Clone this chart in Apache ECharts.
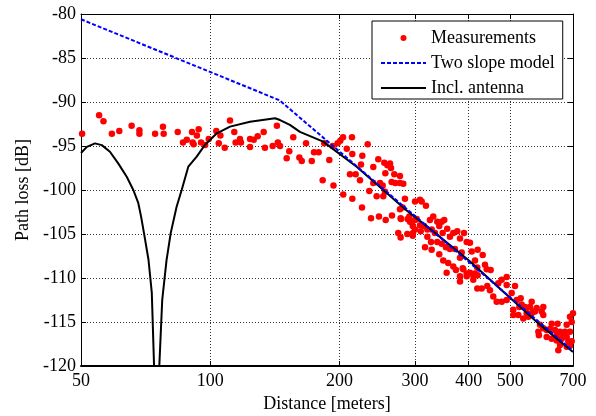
<!DOCTYPE html>
<html>
<head>
<meta charset="utf-8">
<script src="https://cdn.jsdelivr.net/npm/echarts@6/dist/echarts.min.js"></script>
<style>html,body{margin:0;padding:0;background:#fff}#c{width:596px;height:416px}</style>
</head>
<body>
<div id="c"></div>
<script>
// Measurements (distance in meters, path loss in dB)
const measDist = [50.3,55.1,56.4,59.0,61.4,65.6,68.4,68.4,74.4,77.6,77.9,84.0,86.4,88.2,90.7,91.0,91.5,93.1,94.0,95.2,97.3,99.2,103.3,105.6,104.7,108.1,111.2,113.8,114.6,117.3,117.9,123.8,123.8,126.3,129.0,133.2,134.1,139.8,143.0,143.7,145.4,150.7,152.8,156.1,161.3,163.4,167.2,172.4,174.5,178.9,184.4,182.8,189.4,193.7,192.9,198.1,200.9,203.9,204.1,213.9,208.0,214.3,232.7,226.1,224.5,211.6,218.2,223.3,246.3,254.4,262.3,258.6,263.7,239.8,255.8,268.4,276.7,264.6,269.9,276.7,281.7,248.6,252.2,239.8,234.7,244.2,253.0,255.4,214.3,225.7,284.2,299.9,308.1,280.7,236.9,247.2,256.3,265.1,278.2,288.3,292.0,299.9,274.2,287.8,296.7,277.7,296.3,310.9,318.1,276.7,277.7,290.9,294.7,302.7,308.1,314.8,299.9,309.3,320.5,325.0,330.8,338.0,346.1,350.9,341.6,356.5,328.0,333.8,347.9,368.3,376.3,361.8,296.3,320.5,316.5,328.0,338.0,346.1,326.8,341.6,354.1,361.8,371.6,402.8,385.3,406.5,349.0,358.4,368.3,381.8,373.6,388.6,395.8,355.4,381.8,410.0,418.9,390.1,381.8,395.8,419.8,431.2,413.8,387.4,402.8,395.8,381.8,413.8,419.8,436.6,440.6,450.1,410.0,418.9,428.9,442.0,448.4,456.4,464.8,477.5,490.5,477.5,490.5,490.5,468.9,503.8,528.7,508.1,524.8,546.0,560.9,508.1,522.0,546.0,560.9,570.9,536.1,512.8,517.5,531.5,541.0,555.8,576.1,596.9,591.8,565.7,550.8,596.9,624.4,644.6,676.7,688.8,700,695.1,586.4,596.9,581.2,607.9,618.7,635.5,652.8,670.5,688.8,641.3,664.5,607.9,624.4,641.3,658.8,676.7,682.6,652.8,646.9,695.1,676.7,688.8,583.0];
const measLoss = [-93.6,-91.5,-92.2,-93.6,-93.3,-92.7,-93.2,-93.6,-93.6,-92.8,-93.6,-93.4,-94.6,-94.3,-93.4,-94.6,-94.8,-93.8,-93.1,-94.6,-94.9,-94.2,-93.3,-93.8,-94.7,-95.2,-92.1,-93.4,-94.6,-94.2,-94.6,-94.2,-95.1,-94.3,-93.9,-93.4,-95.2,-95.0,-92.7,-94.6,-95.0,-96.4,-95.6,-94.0,-96.3,-96.7,-94.7,-96.7,-95.7,-95.7,-94.7,-98.9,-96.6,-99.5,-95.0,-94.7,-94.4,-94.0,-100.5,-94.0,-95.3,-95.9,-94.8,-96.1,-97.1,-98.2,-98.2,-98.9,-96.5,-96.9,-97.0,-97.2,-97.5,-97.4,-98.1,-98.2,-98.4,-99.1,-99.2,-99.2,-99.3,-99.2,-99.5,-99.2,-100.1,-100.7,-100.7,-100.2,-101.0,-102.0,-101.0,-101.3,-101.1,-102.0,-103.2,-103.0,-103.4,-102.9,-103.3,-103.3,-103.6,-103.4,-104.9,-105.0,-104.9,-105.4,-104.1,-101.3,-101.8,-102.2,-103.2,-103.0,-103.7,-103.3,-104.0,-104.1,-104.5,-104.7,-104.5,-103.4,-103.0,-103.6,-103.6,-103.4,-104.1,-104.4,-104.5,-104.9,-104.9,-104.9,-104.7,-105.3,-105.2,-105.3,-106.5,-106.8,-105.9,-106.1,-105.9,-107.3,-106.5,-106.7,-106.7,-106.0,-107.1,-107.0,-108.0,-108.3,-108.7,-107.7,-109.1,-109.0,-109.5,-109.4,-109.8,-109.7,-108.8,-104.9,-105.5,-105.9,-106.8,-107.4,-108.0,-108.9,-109.4,-109.8,-110.4,-109.5,-109.7,-108.5,-109.0,-109.1,-110.2,-111.2,-111.2,-110.9,-111.4,-112.1,-112.7,-112.7,-112.5,-110.2,-109.9,-110.8,-110.6,-111.7,-112.3,-113.6,-113.3,-113.4,-112.7,-114.2,-114.2,-114.0,-114.0,-113.8,-114.6,-110.9,-112.5,-113.0,-113.3,-113.3,-113.4,-113.3,-113.8,-113.8,-114.4,-114.2,-115.2,-115.2,-115.3,-114.4,-114.0,-115.0,-115.3,-115.7,-116.1,-115.9,-115.8,-115.9,-116.1,-116.1,-116.1,-116.5,-116.5,-116.7,-116.9,-117.1,-116.9,-116.7,-117.2,-117.6,-118.2,-117.2,-117.8,-117.7,-116.5];

// Two slope model
const modelDist = [50, 145, 700];
const modelLoss = [-80.6, -89.8, -118.3];

// Including antenna pattern
const antDist = [50,51.6,53.9,55.9,58.4,61.1,63.9,66.2,68.0,69.0,70.1,71.8,73.1,74.0,75.0,76.1,77.3,79.1,80.9,83.5,85.8,88.9,93.0,97.3,103.6,111.2,123.8,141.6,145.4,153.3,161.8,183.3,219.3,253,286.4,330.6,402.5,490.5,586,700];
const antLoss = [-95.8,-95.1,-94.7,-94.9,-95.65,-97.0,-98.5,-100.0,-101.5,-103.0,-104.9,-107.9,-111.7,-120.1,-140,-120.0,-112.5,-108.0,-104.9,-101.9,-100.0,-97.35,-96.2,-94.85,-93.56,-92.8,-92.24,-91.85,-92.05,-92.6,-93.4,-94.5,-97.35,-100.0,-102.3,-104.7,-108.1,-111.9,-115.3,-118.4];

const xTicks = [50, 100, 200, 300, 400, 500, 700];
const yMin = -120, yMax = -80, yStep = 5;

const seriesNames = ['Measurements', 'Two slope model', 'Incl. antenna'];
const FONT = 'Liberation Serif';

const chart = echarts.init(document.getElementById('c'), null, {renderer: 'canvas'});
const axisLineStyle = {color: '#000', width: 1};
const gridLine = {show: true, lineStyle: {color: '#000', type: [1, 2], width: 1, opacity: 0.8}};
const txt = {fontFamily: FONT, fontSize: 18, color: '#000'};

chart.setOption({
  animation: false,
  backgroundColor: '#fff',
  grid: {left: 81, right: 23, top: 14, bottom: 50, containLabel: false, outerBoundsMode: 'none'},
  legend: {
    data: [
      {name: seriesNames[0]},
      {name: seriesNames[1], itemStyle: {opacity: 0}},
      {name: seriesNames[2], itemStyle: {opacity: 0}}
    ],
    orient: 'vertical',
    left: 372, top: 21,
    padding: [8, 8, 2, 8],
    itemWidth: 45, itemHeight: 6, itemGap: 7,
    backgroundColor: '#fff', borderColor: '#000', borderWidth: 1, borderRadius: 0,
    textStyle: txt,
    selectedMode: false
  },
  xAxis: [{
    type: 'log', logBase: 10, min: 50, max: 700, position: 'bottom',
    name: 'Distance [meters]', nameLocation: 'middle', nameGap: 27, nameTextStyle: txt,
    axisLine: {show: true, onZero: false, lineStyle: {color: '#000', width: 2}},
    axisTick: {show: true, inside: true, length: 5, customValues: xTicks, lineStyle: axisLineStyle},
    axisLabel: {customValues: xTicks, margin: 6, ...txt, formatter: v => String(Math.round(v))},
    minorTick: {show: false}, minorSplitLine: {show: false},
    splitLine: gridLine
  }, {
    type: 'log', logBase: 10, min: 50, max: 700, position: 'top',
    axisLine: {show: true, onZero: false, lineStyle: axisLineStyle},
    axisTick: {show: true, inside: true, length: 5, customValues: xTicks, lineStyle: axisLineStyle},
    axisLabel: {show: false}, splitLine: {show: false}
  }],
  yAxis: [{
    type: 'value', min: yMin, max: yMax, interval: yStep, position: 'left',
    name: 'Path loss [dB]', nameLocation: 'middle', nameGap: 48, nameTextStyle: txt,
    axisLine: {show: true, onZero: false, lineStyle: axisLineStyle},
    axisTick: {show: true, inside: true, length: 5, lineStyle: axisLineStyle},
    axisLabel: {margin: 5, ...txt},
    splitLine: gridLine
  }, {
    type: 'value', min: yMin, max: yMax, interval: yStep, position: 'right',
    axisLine: {show: true, onZero: false, lineStyle: axisLineStyle},
    axisTick: {show: true, inside: true, length: 5, lineStyle: axisLineStyle},
    axisLabel: {show: false}, splitLine: {show: false}
  }],
  series: [{
    name: seriesNames[0], type: 'scatter', xAxisIndex: 0, yAxisIndex: 0,
    symbol: 'circle', symbolSize: 6.5,
    itemStyle: {color: '#ff0000', opacity: 1},
    data: measDist.map((d, i) => [d, measLoss[i]]), z: 2
  }, {
    name: seriesNames[2], type: 'line', xAxisIndex: 0, yAxisIndex: 0,
    symbol: 'none', clip: true,
    lineStyle: {color: '#000', width: 2},
    itemStyle: {color: '#000'},
    data: antDist.map((d, i) => [d, antLoss[i]]), z: 3
  }, {
    name: seriesNames[1], type: 'line', xAxisIndex: 0, yAxisIndex: 0,
    symbol: 'none', clip: true,
    lineStyle: {color: '#0000ff', width: 2, type: [4, 2]},
    itemStyle: {color: '#0000ff'},
    data: modelDist.map((d, i) => [d, modelLoss[i]]), z: 4
  }]
});
</script>
</body>
</html>
